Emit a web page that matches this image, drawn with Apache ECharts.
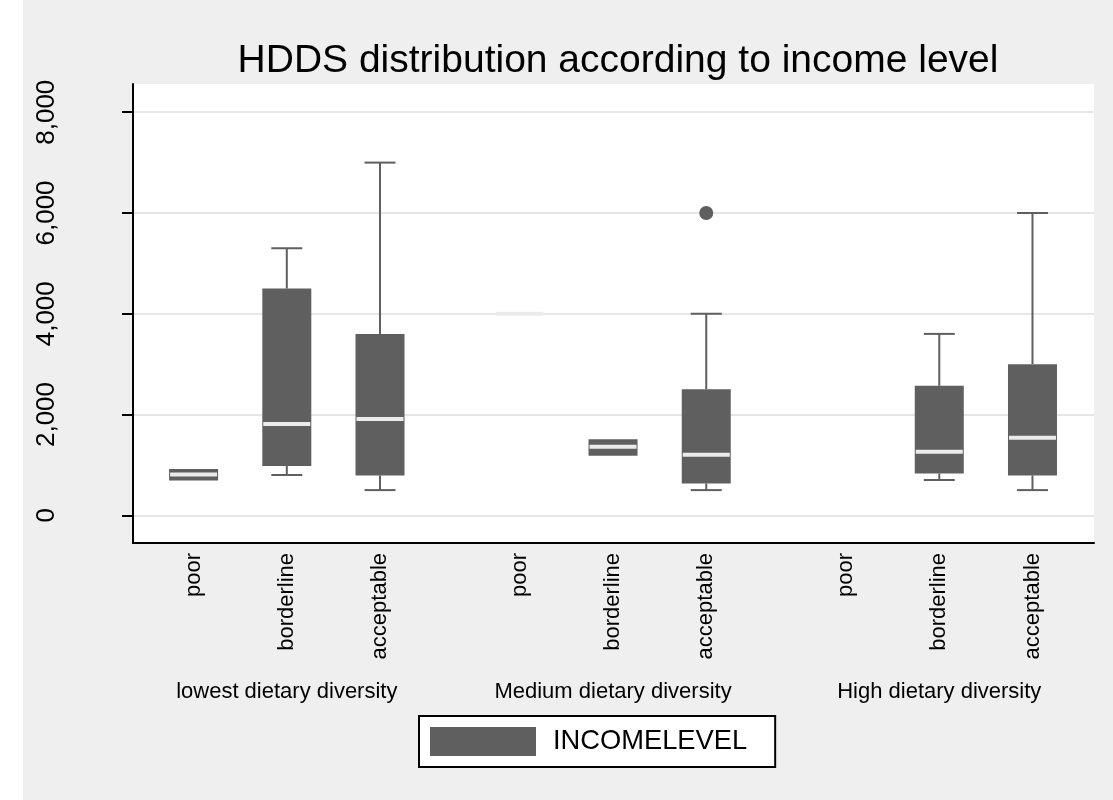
<!DOCTYPE html>
<html lang="en">
<head>
    <meta charset="UTF-8">
    <title>HDDS distribution according to income level</title>
    <script src="https://cdn.jsdelivr.net/npm/echarts/dist/echarts.min.js"></script>
    <style>
        body, html {
            margin: 0;
            padding: 0;
            background: #ffffff;
        }

        #chart {
            width: 1113px;
            height: 800px;
        }
    </style>
</head>
<body>

<div id="chart"></div>

<script>
    // categories inside each dietary diversity group
    const categories = ['poor', 'borderline', 'acceptable', 'poor', 'borderline', 'acceptable', 'poor', 'borderline', 'acceptable'];
    const groups = ['lowest dietary diversity', 'Medium dietary diversity', 'High dietary diversity'];

    // box plot values per category (null = no observations)
    const lowValues    = [690, 800, 500, 4000, 1180, 500, null, 700, 500];
    const q1Values     = [690, 980, 790, 4000, 1180, 630, null, 830, 790];
    const medianValues = [810, 1810, 1910, 4000, 1360, 1200, null, 1260, 1540];
    const q3Values     = [920, 4500, 3600, 4000, 1510, 2500, null, 2570, 3000];
    const highValues   = [920, 5300, 7000, 4000, 1510, 4000, null, 3600, 6000];

    // outside values: [category index, value]
    const outliers = [[5, 6000]];

    const yTicks = [0, 2000, 4000, 6000, 8000];

    // slot of each box on the x scale: groups are 7 units apart, boxes 2 units apart
    const slotOf = i => Math.floor(i / 3) * 7 + (i % 3) * 2;
    const slots = categories.map((c, i) => slotOf(i));
    const groupSlots = groups.map((g, i) => slotOf(i * 3 + 1));

    const boxColor = '#5f5f5f';
    const medianColor = '#ebebeb';
    const font = 'Liberation Sans, Arial, Helvetica, sans-serif';

    const boxData = [];
    categories.forEach((c, i) => {
        if (q1Values[i] === null) return;
        boxData.push([slots[i], lowValues[i], q1Values[i], medianValues[i], q3Values[i], highValues[i]]);
    });

    function renderBox(params, api) {
        const x = api.value(0);
        const low = api.coord([x, api.value(1)]);
        const q1 = api.coord([x, api.value(2)]);
        const med = api.coord([x, api.value(3)]);
        const q3 = api.coord([x, api.value(4)]);
        const high = api.coord([x, api.value(5)]);
        const cx = low[0];
        const boxW = 49;
        const capW = 31;
        const lineStyle = { stroke: boxColor, lineWidth: 2 };
        const children = [];

        if (api.value(5) > api.value(4)) {
            children.push({ type: 'line', shape: { x1: cx, y1: q3[1], x2: cx, y2: high[1] }, style: lineStyle });
            children.push({ type: 'line', shape: { x1: cx - capW / 2, y1: high[1], x2: cx + capW / 2, y2: high[1] }, style: lineStyle });
        }
        if (api.value(1) < api.value(2)) {
            children.push({ type: 'line', shape: { x1: cx, y1: q1[1], x2: cx, y2: low[1] }, style: lineStyle });
            children.push({ type: 'line', shape: { x1: cx - capW / 2, y1: low[1], x2: cx + capW / 2, y2: low[1] }, style: lineStyle });
        }
        children.push({
            type: 'rect',
            shape: { x: cx - boxW / 2, y: q3[1], width: boxW, height: q1[1] - q3[1] },
            style: { fill: boxColor }
        });
        children.push({
            type: 'rect',
            shape: { x: cx - boxW / 2 + 1, y: med[1] - 2, width: boxW - 2, height: 4 },
            style: { fill: medianColor }
        });
        return { type: 'group', children: children };
    }

    const xMin = -1.3;
    const xMax = 19.32;

    const chart = echarts.init(document.getElementById('chart'));
    const option = {
        backgroundColor: '#ffffff',
        animation: false,
        textStyle: { fontFamily: font },
        graphic: [{
            type: 'rect',
            z: -100,
            silent: true,
            shape: { x: 23, y: 0, width: 1090, height: 800 },
            style: { fill: '#efefef' }
        }],
        title: {
            text: 'HDDS distribution according to income level',
            left: 613,
            textAlign: 'center',
            top: 37,
            textStyle: { fontSize: 39, fontWeight: 'normal', color: '#000', fontFamily: font }
        },
        legend: {
            data: [{ name: 'INCOMELEVEL', icon: 'rect', itemStyle: { color: boxColor } }],
            left: 419,
            top: 716,
            itemWidth: 106,
            itemHeight: 29,
            padding: [11, 28, 11, 11],
            backgroundColor: '#ffffff',
            borderColor: '#000000',
            borderWidth: 2,
            borderRadius: 0,
            selectedMode: false,
            textStyle: { fontSize: 27.3, color: '#000', fontFamily: font, padding: [0, 0, 0, 12] }
        },
        grid: {
            left: 133,
            right: 19,
            top: 84,
            bottom: 257,
            show: true,
            backgroundColor: '#ffffff',
            borderWidth: 0
        },
        xAxis: [{
            type: 'value',
            min: xMin,
            max: xMax,
            splitLine: { show: false },
            axisLine: { show: true, onZero: false, lineStyle: { color: '#000', width: 2 } },
            axisTick: { show: false },
            axisLabel: {
                customValues: slots,
                rotate: 90,
                margin: 10,
                fontSize: 22,
                color: '#000',
                fontFamily: font,
                formatter: v => categories[slots.indexOf(v)]
            }
        }, {
            type: 'value',
            position: 'bottom',
            min: xMin,
            max: xMax,
            splitLine: { show: false },
            axisLine: { show: false, onZero: false },
            axisTick: { show: false },
            axisLabel: {
                customValues: groupSlots,
                margin: 138,
                fontSize: 22,
                color: '#000',
                fontFamily: font,
                formatter: v => groups[groupSlots.indexOf(v)]
            }
        }],
        yAxis: {
            type: 'value',
            min: -550,
            max: 8560,
            axisLine: { show: true, onZero: false, lineStyle: { color: '#000', width: 2 } },
            axisTick: { show: true, customValues: yTicks, length: 11, lineStyle: { color: '#000', width: 2 } },
            splitLine: { show: true, lineStyle: { color: '#e6e6e6', width: 2 } },
            axisLabel: {
                customValues: yTicks,
                rotate: 90,
                margin: 73,
                fontSize: 26,
                color: '#000',
                fontFamily: font,
                formatter: v => v.toLocaleString('en-US')
            }
        },
        series: [{
            name: 'INCOMELEVEL',
            type: 'custom',
            renderItem: renderBox,
            itemStyle: { color: boxColor },
            encode: { x: 0, y: [1, 2, 3, 4, 5] },
            data: boxData,
            z: 3
        }, {
            name: 'outside values',
            type: 'scatter',
            symbol: 'circle',
            symbolSize: 14,
            itemStyle: { color: boxColor, opacity: 1 },
            data: outliers.map(o => [slots[o[0]], o[1]]),
            z: 4
        }]
    };
    chart.setOption(option);
</script>

</body>
</html>
